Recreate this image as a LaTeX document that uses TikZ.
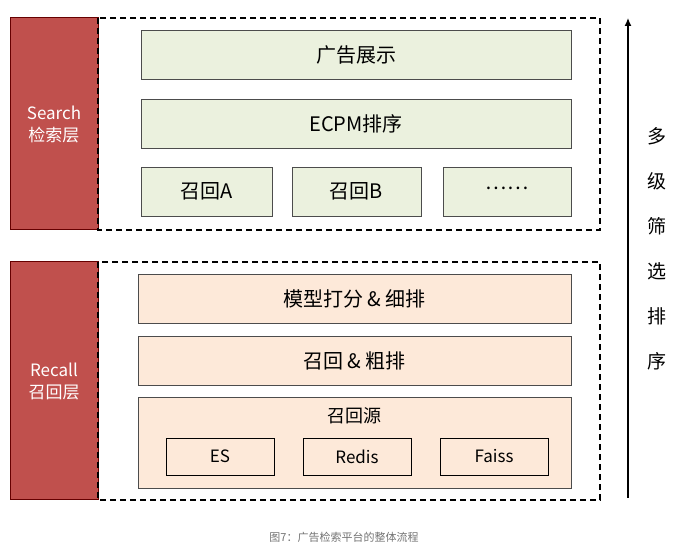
\documentclass[tikz,border=0pt]{standalone}
\usepackage{fontspec}
\usetikzlibrary{arrows.meta}
\setmainfont{Noto Sans CJK SC}
\begin{document}
\begin{tikzpicture}[x=1pt,y=-1pt,
  redbox/.style={draw=red!40!black,fill={rgb,255:red,192;green,80;blue,77},line width=1pt},
  dbox/.style={draw=black,dashed,line width=1.3pt,dash pattern=on 6pt off 4pt},
  gbox/.style={draw=black!70,fill={rgb,255:red,235;green,241;blue,222},line width=0.8pt},
  obox/.style={draw=black!70,fill={rgb,255:red,253;green,233;blue,217},line width=0.8pt},
  txt/.style={font=\fontsize{20}{24}\selectfont}]
\useasboundingbox (0,0) rectangle (689,553);
\path[redbox] (10,18) rectangle (98,230);
\path[redbox] (10,262) rectangle (98,500);
\node[text=white,align=center,font=\fontsize{17}{22}\selectfont] (s) at (54,124) {Search\\检索层};
\node[text=white,align=center,font=\fontsize{17}{22}\selectfont] (r) at (54,381) {Recall\\召回层};
\path[dbox] (98,18) rectangle (600,230);
\path[dbox] (98,262) rectangle (600,500);
\path[gbox] (141,30) rectangle (571,79); \node[txt] (a) at (356,54.5) {广告展示};
\path[gbox] (141,99) rectangle (571,148); \node[txt] (b) at (356,123.5) {ECPM排序};
\path[gbox] (141,167) rectangle (272,216); \node[txt] (c1) at (206.5,191.5) {召回A};
\path[gbox] (292,167) rectangle (421,216); \node[txt] (c2) at (356.5,191.5) {召回B};
\path[gbox] (443,167) rectangle (571,216); \node[txt] (c3) at (507,188) {……};
\path[obox] (138,274) rectangle (571,323); \node[txt] (m) at (354.5,298.5) {模型打分 \& 细排};
\path[obox] (138,336) rectangle (571,385); \node[txt] (n) at (354.5,360.5) {召回 \& 粗排};
\path[obox] (138,397) rectangle (571,488); \node[font=\fontsize{18}{22}\selectfont] (y) at (354.5,416) {召回源};
\tikzset{ib/.style={draw=black,line width=0.8pt,fill={rgb,255:red,253;green,233;blue,217}}}
\path[ib] (166,438) rectangle (274,475); \node[font=\fontsize{17}{20}\selectfont] (e1) at (220,456.5) {ES};
\path[ib] (303,438) rectangle (411,475); \node[font=\fontsize{17}{20}\selectfont] (e2) at (357,456.5) {Redis};
\path[ib] (440,438) rectangle (548,475); \node[font=\fontsize{17}{20}\selectfont] (e3) at (494,456.5) {Faiss};
\coordinate (p0) at (628,498); \coordinate (p1) at (628,18);
\draw[line width=1.3pt,-{Latex[length=8pt,width=7pt]}] (p0) -- (p1);
\node[align=center,font=\fontsize{19}{45}\selectfont] (v) at (657,249) {多\\级\\筛\\选\\排\\序};
\node[text=black!55,font=\fontsize{11}{13}\selectfont] (cap) at (344,537) {图7：广告检索平台的整体流程};
\end{tikzpicture}
\end{document}
